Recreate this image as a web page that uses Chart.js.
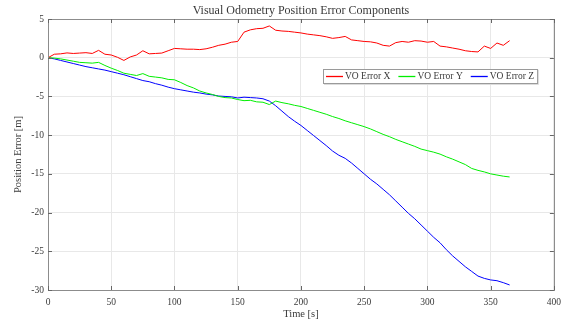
<!DOCTYPE html>
<html>
<head>
<meta charset="utf-8">
<script src="https://cdn.jsdelivr.net/npm/chart.js@4/dist/chart.umd.min.js"></script>
<style>
html,body{margin:0;padding:0;background:#fff;}
#wrap{width:568px;height:325px;position:relative;}
</style>
</head>
<body>
<div id="wrap"><canvas id="c" width="568" height="325"></canvas></div>
<script>
const chartTitle = 'Visual Odometry Position Error Components';
const xLabel = 'Time [s]';
const yLabel = 'Position Error [m]';
const seriesNames = ['VO Error X', 'VO Error Y', 'VO Error Z'];
const seriesColors = ['#ff0000', '#00ee00', '#0000ff'];

const timeS = [0,5,10,15,20,25,30,35,40,45,50,55,60,65,70,75,80,85,90,95,
  100,105,110,115,120,125,130,135,140,145,150,155,160,165,170,175,180,185,190,195,
  200,205,210,215,220,225,230,235,240,245,250,255,260,265,270,275,280,285,290,295,
  300,305,310,315,320,325,330,335,340,345,350,355,360,365];

const errX = [0.0,0.45,0.5,0.62,0.55,0.6,0.65,0.55,0.95,0.45,0.35,0.05,-0.35,0.1,0.35,0.9,0.5,0.55,0.6,0.9,
  1.2,1.15,1.1,1.1,1.05,1.15,1.35,1.6,1.75,2.0,2.1,3.3,3.6,3.75,3.8,4.1,3.55,3.45,3.4,3.3,
  3.2,3.05,2.95,2.85,2.7,2.5,2.6,2.75,2.3,2.2,2.1,2.05,1.9,1.6,1.5,1.95,2.1,2.0,2.2,2.15,
  2.0,2.1,1.5,1.4,1.25,1.1,0.9,0.8,0.75,1.5,1.2,1.9,1.6,2.2];

const errY = [0.0,-0.05,-0.15,-0.3,-0.45,-0.6,-0.65,-0.7,-0.6,-1.0,-1.35,-1.65,-2.0,-2.15,-2.3,-2.05,-2.4,-2.5,-2.6,-2.8,
  -2.85,-3.2,-3.6,-3.9,-4.3,-4.55,-4.75,-5.0,-5.15,-5.2,-5.4,-5.55,-5.5,-5.7,-5.75,-6.05,-5.6,-5.8,-5.95,-6.15,
  -6.3,-6.55,-6.8,-7.05,-7.3,-7.6,-7.85,-8.15,-8.4,-8.65,-8.9,-9.2,-9.55,-9.9,-10.2,-10.55,-10.85,-11.15,-11.45,-11.8,
  -12.0,-12.2,-12.45,-12.8,-13.1,-13.45,-13.8,-14.3,-14.55,-14.75,-15.0,-15.15,-15.3,-15.4];

const errZ = [0.0,-0.15,-0.35,-0.55,-0.75,-0.95,-1.15,-1.3,-1.45,-1.6,-1.8,-2.0,-2.2,-2.45,-2.7,-2.95,-3.1,-3.35,-3.55,-3.8,
  -4.0,-4.15,-4.3,-4.45,-4.55,-4.7,-4.8,-4.95,-5.0,-5.05,-5.2,-5.1,-5.15,-5.2,-5.3,-5.6,-6.2,-6.9,-7.6,-8.2,
  -8.75,-9.4,-10.05,-10.7,-11.35,-12.05,-12.6,-13.0,-13.6,-14.3,-15.0,-15.7,-16.3,-17.0,-17.7,-18.5,-19.3,-20.1,-20.8,-21.6,
  -22.4,-23.2,-23.9,-24.8,-25.6,-26.3,-27.0,-27.6,-28.2,-28.5,-28.7,-28.8,-29.05,-29.35];

const xTicks = [0,50,100,150,200,250,300,350,400];
const yTicks = [5,0,-5,-10,-15,-20,-25,-30];

const SERIF = '"Liberation Serif", "DejaVu Serif", serif';
const TEXT = '#3a3a3a';

function pts(vals){ return vals.map((v,i)=>({x:timeS[i], y:v})); }

const frame = {
  id:'frame',
  afterDraw(chart){
    const {ctx, chartArea:a, scales} = chart;
    ctx.save();
    ctx.strokeStyle = '#8c8c8c';
    ctx.lineWidth = 1;
    ctx.strokeRect(Math.round(a.left)+0.5, Math.round(a.top)+0.5, Math.round(a.right-a.left), Math.round(a.bottom-a.top));
    ctx.strokeStyle = '#666';
    const tl = 4;
    ctx.beginPath();
    xTicks.forEach(t=>{
      const x = Math.round(scales.x.getPixelForValue(t))+0.5;
      ctx.moveTo(x,a.bottom); ctx.lineTo(x,a.bottom-tl);
      ctx.moveTo(x,a.top); ctx.lineTo(x,a.top+tl);
    });
    yTicks.forEach(t=>{
      const y = Math.round(scales.y.getPixelForValue(t))+0.5;
      ctx.moveTo(a.left,y); ctx.lineTo(a.left+tl,y);
      ctx.moveTo(a.right,y); ctx.lineTo(a.right-tl,y);
    });
    ctx.stroke();
    ctx.fillStyle = TEXT;
    ctx.font = '12px ' + SERIF;
    ctx.textAlign = 'center';
    ctx.textBaseline = 'middle';
    ctx.fillText(chartTitle, (a.left+a.right)/2, a.top - 8);
    ctx.font = '9.5px ' + SERIF;
    const lineLen = 17, gapA = 2, gapB = 8, padL = 3, padR = 3;
    const ds = chart.data.datasets;
    let total = padL + padR;
    ds.forEach((d,i)=>{ total += lineLen + gapA + ctx.measureText(d.label).width + (i<ds.length-1?gapB:0); });
    const bx = Math.round(a.right - 17 - total), by = Math.round(a.top + 50), bh = 14;
    ctx.fillStyle = '#fff';
    ctx.fillRect(bx, by, total, bh);
    ctx.strokeStyle = '#9a9a9a';
    ctx.strokeRect(bx+0.5, by+0.5, total, bh);
    ctx.strokeStyle = '#dcdcdc';
    ctx.beginPath(); ctx.moveTo(bx+1, by+bh+1.5); ctx.lineTo(bx+total+1.5, by+bh+1.5); ctx.lineTo(bx+total+1.5, by+1); ctx.stroke();
    let x = bx + padL;
    const cy = by + bh/2 + 0.5;
    ds.forEach((d,i)=>{
      ctx.strokeStyle = d.borderColor; ctx.lineWidth = 1.3;
      ctx.beginPath(); ctx.moveTo(x, cy); ctx.lineTo(x+lineLen, cy); ctx.stroke();
      x += lineLen + gapA;
      ctx.fillStyle = TEXT; ctx.textAlign = 'left';
      ctx.fillText(d.label, x, cy);
      x += ctx.measureText(d.label).width + gapB;
    });
    ctx.restore();
  }
};

new Chart(document.getElementById('c'), {
  type:'line',
  data:{
    datasets:[
      {label:seriesNames[0], data:pts(errX), borderColor:seriesColors[0]},
      {label:seriesNames[1], data:pts(errY), borderColor:seriesColors[1]},
      {label:seriesNames[2], data:pts(errZ), borderColor:seriesColors[2]}
    ]
  },
  options:{
    responsive:false,
    animation:false,
    devicePixelRatio:1,
    elements:{ line:{borderWidth:1, tension:0, fill:false}, point:{radius:0} },
    layout:{ padding:{top:19, right:14, left:0, bottom:0} },
    plugins:{ legend:{display:false}, title:{display:false}, tooltip:{enabled:false} },
    scales:{
      x:{
        type:'linear', min:0, max:400,
        afterBuildTicks(s){ s.ticks = xTicks.map(v=>({value:v})); },
        afterFit(s){ s.height = 35; },
        grid:{ color:'#e8e8e8', drawTicks:false },
        border:{ display:false },
        ticks:{ padding:7, color:TEXT, font:{family:SERIF, size:9.5}, maxRotation:0 },
        title:{ display:true, text:xLabel, color:TEXT, font:{family:SERIF, size:10.5}, padding:{top:0,bottom:4} }
      },
      y:{
        type:'linear', min:-30, max:5,
        afterBuildTicks(s){ s.ticks = yTicks.map(v=>({value:v})); },
        afterFit(s){ s.width = 48; },
        grid:{ color:'#e8e8e8', drawTicks:false },
        border:{ display:false },
        ticks:{ padding:4, color:TEXT, font:{family:SERIF, size:9.5} },
        title:{ display:true, text:yLabel, color:TEXT, font:{family:SERIF, size:10.5}, padding:{top:12,bottom:0} }
      }
    }
  },
  plugins:[frame]
});
</script>
</body>
</html>
